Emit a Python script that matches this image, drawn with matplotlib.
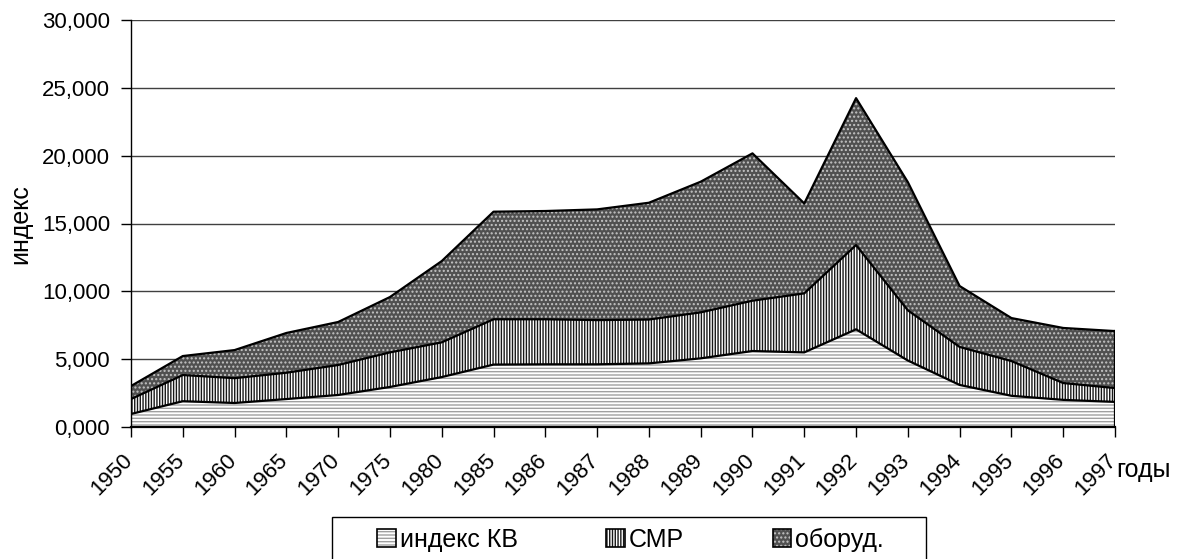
import numpy as np
import matplotlib; matplotlib.use('Agg')
import matplotlib.pyplot as plt
from matplotlib.patches import Patch, Rectangle
from matplotlib.legend_handler import HandlerTuple
from matplotlib.ticker import FuncFormatter
from matplotlib.transforms import ScaledTranslation

plt.rcParams.update({'font.family': ['Liberation Sans', 'DejaVu Sans'], 'font.size': 16,
                     'hatch.linewidth': 1.0})

years = ['1950', '1955', '1960', '1965', '1970', '1975', '1980', '1985', '1986', '1987',
         '1988', '1989', '1990', '1991', '1992', '1993', '1994', '1995', '1996', '1997']
# cumulative boundaries (thousands)
kv_top = [0.96, 1.90, 1.77, 2.06, 2.36, 2.95, 3.68, 4.60, 4.62, 4.62,
          4.69, 5.06, 5.60, 5.50, 7.20, 4.90, 3.10, 2.30, 2.00, 1.85]
smr_top = [2.06, 3.83, 3.60, 4.00, 4.57, 5.50, 6.24, 7.94, 7.94, 7.88,
           7.92, 8.45, 9.31, 9.85, 13.41, 8.60, 5.90, 4.86, 3.24, 2.87]
total = [3.02, 5.23, 5.67, 6.93, 7.74, 9.58, 12.23, 15.87, 15.92, 16.04,
         16.53, 18.08, 20.17, 16.48, 24.24, 18.05, 10.39, 8.03, 7.30, 7.07]
labels = ['индекс КВ', 'СМР', 'оборуд.']

# (face, hatch colour, hatch)
styles = [('white', '#a0a0a0', '-----'),
          ('white', '#181818', '||||||'),
          ('#505050', '#c4c4c4', '....')]

x = np.arange(len(years))
fig = plt.figure(figsize=(11.78, 5.59), dpi=100)
ax = fig.add_axes([131/1178, 1-427/559, (1115-131)/1178, (427-20)/559])

bounds = [np.zeros(len(x)), kv_top, smr_top, total]
for i, (fc, hc, h) in enumerate(styles):
    ax.fill_between(x, bounds[i], bounds[i+1], facecolor=fc, edgecolor=hc, hatch=h, linewidth=0, zorder=2)
for s in (kv_top, smr_top, total):
    ax.plot(x, s, color='black', lw=1.6, zorder=3)
ax.plot([x[-1], x[-1]], [0, total[-1]], color='black', lw=1.6, zorder=3)

ax.set_xlim(0, len(x)-1); ax.set_ylim(0, 30)
ax.set_yticks(np.arange(0, 31, 5))
ax.yaxis.set_major_formatter(FuncFormatter(lambda v, p: f'{v:.3f}'.replace('.', ',')))
ax.set_xticks(x); ax.set_xticklabels([])
# rotated year labels, shifted down-left of their ticks like the original
tr = ax.get_xaxis_transform() + ScaledTranslation(-0.09, -0.23, fig.dpi_scale_trans)
for xi, yr in zip(x, years):
    ax.text(xi, 0, yr, transform=tr, rotation=45, ha='right', va='top',
            rotation_mode='anchor', fontsize=16, clip_on=False)
ax.tick_params(axis='both', direction='out', length=7, width=1, colors='black', labelsize=16)
ax.tick_params(axis='y', pad=8)
ax.grid(axis='y', color='#404040', lw=1, zorder=0)
ax.set_axisbelow(True)
for sp in ['top', 'right']: ax.spines[sp].set_visible(False)
ax.spines['left'].set_linewidth(1); ax.spines['bottom'].set_linewidth(1.6)
fig.text(20/1178, 1-224/559, 'индекс', fontsize=18, rotation=90, ha='center', va='center')
fig.text(1144/1178, 1-470/559, 'годы', fontsize=18, ha='center', va='center')

# legend frame (bottom edge runs off the canvas)
fig.patches.append(Rectangle((332/1178, 1-580/559), (926-332)/1178, 63/559, transform=fig.transFigure,
                             facecolor='white', edgecolor='black', lw=1, zorder=5))
handles = [(Patch(facecolor=fc, edgecolor=hc, hatch=h, lw=0),
            Patch(facecolor='none', edgecolor='black', lw=1.2)) for fc, hc, h in styles]
leg = fig.legend(handles, labels, loc='center left', bbox_to_anchor=(377/1178, 1-540/559), ncol=3,
                 frameon=False, fontsize=18, handlelength=0.75, handleheight=0.75,
                 handletextpad=0.15, columnspacing=3.55, borderpad=0, borderaxespad=0,
                 handler_map={tuple: HandlerTuple(ndivide=1, pad=0)})
leg.set_zorder(6)

fig.savefig('out.png', dpi=100)
